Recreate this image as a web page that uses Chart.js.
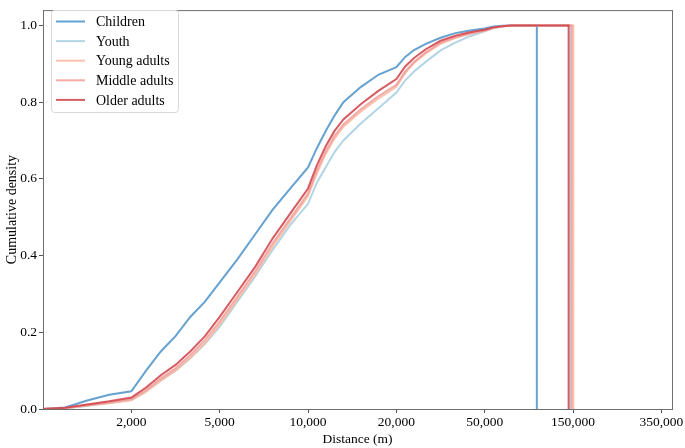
<!DOCTYPE html>
<html>
<head>
<meta charset="utf-8">
<script src="https://cdn.jsdelivr.net/npm/chart.js@4.4.1/dist/chart.umd.min.js"></script>
<style>
    body { margin: 0; background: #fff; }
    #wrap { width: 685px; height: 448px; }
</style>
</head>
<body>
<div id="wrap"><canvas id="grafico" width="685" height="448"></canvas></div>
<script>
// distances (m) where the cumulative curves were read
const distancias = [0, 500, 1000, 1500, 2000, 2500, 3000, 3500, 4000, 4500, 5000, 6000, 7000, 8000, 9000, 10000,
    11000, 12000, 13000, 14000, 16000, 18000, 20000, 23000, 26000, 30000, 35000, 40000, 45000, 50000, 60000, 70000, 80000];

const children = [0, 0.004, 0.022, 0.037, 0.046, 0.1, 0.15, 0.19, 0.24, 0.28, 0.33, 0.39, 0.455, 0.52, 0.575, 0.63,
    0.68, 0.725, 0.765, 0.8, 0.84, 0.872, 0.891, 0.918, 0.936, 0.952, 0.968, 0.98, 0.987, 0.992, 0.997, 0.999, 1.0];
const youth = [0, 0.002, 0.008, 0.016, 0.024, 0.046, 0.075, 0.1, 0.132, 0.17, 0.215, 0.28, 0.345, 0.415, 0.48, 0.535,
    0.59, 0.63, 0.67, 0.70, 0.745, 0.785, 0.825, 0.857, 0.88, 0.905, 0.935, 0.955, 0.972, 0.985, 0.993, 0.998, 1.0];
const youngAdults = [0, 0.002, 0.009, 0.015, 0.023, 0.045, 0.074, 0.1, 0.133, 0.172, 0.22, 0.285, 0.35, 0.424, 0.49, 0.555,
    0.614, 0.665, 0.705, 0.736, 0.776, 0.81, 0.84, 0.876, 0.902, 0.927, 0.952, 0.967, 0.978, 0.986, 0.993, 0.997, 1.0];
const middleAdults = [0, 0.002, 0.01, 0.017, 0.026, 0.05, 0.08, 0.106, 0.14, 0.18, 0.228, 0.293, 0.358, 0.432, 0.497, 0.562,
    0.622, 0.672, 0.712, 0.742, 0.782, 0.816, 0.845, 0.88, 0.905, 0.93, 0.955, 0.969, 0.979, 0.987, 0.994, 0.998, 1.0];
const olderAdults = [0, 0.003, 0.012, 0.02, 0.03, 0.056, 0.088, 0.115, 0.15, 0.19, 0.24, 0.305, 0.37, 0.445, 0.51, 0.575,
    0.635, 0.685, 0.725, 0.755, 0.795, 0.83, 0.86, 0.893, 0.915, 0.938, 0.96, 0.973, 0.982, 0.989, 0.995, 0.998, 1.0];

// largest distance of each group (where the step drops back to 0)
const grupos = ["Children", "Youth", "Young adults", "Middle adults", "Older adults"];
const ultimaBorda = [109000, 147000, 150700, 148500, 145000];
const cores = ["rgba(74,144,201,0.85)", "rgba(164,206,224,0.85)", "rgba(250,184,160,0.85)", "rgba(242,156,152,0.85)", "rgba(207,64,72,0.85)"];

const tickDistancias = [2000, 5000, 10000, 20000, 50000, 150000, 350000];
const tickRotulos = ["2,000", "5,000", "10,000", "20,000", "50,000", "150,000", "350,000"];
const yTicks = [0, 0.2, 0.4, 0.6, 0.8, 1.0];

// the x axis is evenly spaced between the labelled distances
const quebras = [0].concat(tickDistancias);
function posicaoEixo(d) {
    for (let i = 0; i < quebras.length - 1; i++) {
        if (d <= quebras[i + 1]) {
            return i + (d - quebras[i]) / (quebras[i + 1] - quebras[i]);
        }
    }
    return quebras.length - 1;
}

const series = [children, youth, youngAdults, middleAdults, olderAdults];
const datasets = series.map((valores, k) => {
    const pontos = [];
    distancias.forEach((d, i) => {
        if (d < ultimaBorda[k]) pontos.push({ x: posicaoEixo(d), y: valores[i] });
    });
    pontos.push({ x: posicaoEixo(ultimaBorda[k]), y: 1.0 });
    pontos.push({ x: posicaoEixo(ultimaBorda[k]), y: 0 });
    return {
        label: grupos[k],
        data: pontos,
        borderColor: cores[k],
        backgroundColor: cores[k],
        borderWidth: 2,
        pointRadius: 0,
        tension: 0,
        fill: false,
        order: 5 - k,
    };
});

const fonte = "'Liberation Serif', 'Times New Roman', serif";

const moldura = {
    id: "moldura",
    afterDraw(chart) {
        const { ctx, chartArea: a } = chart;
        ctx.save();
        ctx.strokeStyle = "#6e6e6e";
        ctx.lineWidth = 1;
        ctx.strokeRect(a.left + 0.5, a.top + 0.5, a.right - a.left, a.bottom - a.top);

        // legend inside the plot, upper left
        const x0 = 51, y0 = 10.5, w = 127, h = 102;
        ctx.fillStyle = "rgba(255,255,255,0.85)";
        ctx.strokeStyle = "#d9d9d9";
        ctx.beginPath();
        ctx.roundRect(x0 + 0.5, y0, w, h, 3);
        ctx.fill();
        ctx.stroke();
        ctx.font = "14px " + fonte;
        ctx.textBaseline = "middle";
        chart.data.datasets.forEach((ds, i) => {
            const y = 21.5 + i * 19.6;
            ctx.strokeStyle = ds.borderColor;
            ctx.lineWidth = 2;
            ctx.beginPath();
            ctx.moveTo(56, y);
            ctx.lineTo(85, y);
            ctx.stroke();
            ctx.fillStyle = "#000";
            ctx.fillText(ds.label, 96, y + 1);
        });
        ctx.restore();
    },
};

new Chart(document.getElementById("grafico").getContext("2d"), {
    type: "line",
    data: { datasets: datasets },
    options: {
        responsive: false,
        animation: false,
        layout: { padding: { top: 4, right: 13, left: 0, bottom: 0 } },
        plugins: { legend: { display: false }, tooltip: { enabled: false } },
        scales: {
            x: {
                type: "linear",
                min: 0,
                max: 7.12,
                afterBuildTicks: (s) => { s.ticks = tickDistancias.map((d) => ({ value: posicaoEixo(d) })); },
                afterFit: (s) => { s.height = 39; },
                ticks: {
                    callback: (v, i) => tickRotulos[i],
                    color: "#000",
                    font: { family: fonte, size: 13.5 },
                    padding: 1,
                    maxRotation: 0,
                    autoSkip: false,
                },
                grid: { drawOnChartArea: false, tickLength: 4, color: "#555" },
                border: { color: "#6e6e6e" },
                title: {
                    display: true,
                    text: "Distance (m)",
                    color: "#000",
                    font: { family: fonte, size: 13.5 },
                    padding: { top: 0, bottom: 0 },
                },
            },
            y: {
                min: 0,
                max: 1.04,
                afterBuildTicks: (s) => { s.ticks = yTicks.map((v) => ({ value: v })); },
                afterFit: (s) => { s.width = 43; },
                ticks: {
                    callback: (v) => v.toFixed(1),
                    color: "#000",
                    font: { family: fonte, size: 13.5 },
                    padding: 2,
                },
                grid: { drawOnChartArea: false, tickLength: 4, color: "#555" },
                border: { color: "#6e6e6e" },
                title: {
                    display: true,
                    text: "Cumulative density",
                    color: "#000",
                    font: { family: fonte, size: 14 },
                    padding: { top: 4, bottom: 0 },
                },
            },
        },
    },
    plugins: [moldura],
});
</script>
</body>
</html>
